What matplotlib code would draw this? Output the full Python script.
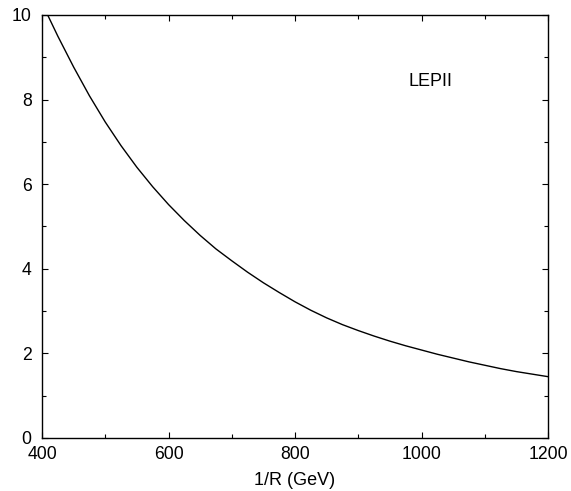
import matplotlib
matplotlib.use("Agg")
import matplotlib.pyplot as plt
from matplotlib.ticker import MultipleLocator

plt.rcParams['font.family'] = ['Liberation Sans', 'DejaVu Sans']

# Curve
inv_r = [408, 425, 450, 475, 500, 525, 550, 575, 600, 625, 650, 675, 700, 725, 750, 775,
         800, 825, 850, 875, 900, 925, 950, 975, 1000, 1025, 1050, 1075, 1100, 1125,
         1150, 1175, 1200]
value = [10.03, 9.50, 8.77, 8.09, 7.47, 6.91, 6.40, 5.94, 5.52, 5.14, 4.79, 4.47, 4.19, 3.92,
         3.67, 3.44, 3.22, 3.02, 2.84, 2.68, 2.54, 2.41, 2.29, 2.18, 2.08, 1.98, 1.89,
         1.80, 1.72, 1.64, 1.57, 1.51, 1.45]

label_text = "LEPII"
label_pos = (1014, 8.42)
xlabel = "1/R (GeV)"

fig = plt.figure(figsize=(5.71, 4.91), dpi=100)
ax = fig.add_axes([42/571, 1 - 438/491, (548 - 42)/571, (438 - 15)/491])
ax.plot(inv_r, value, color='black', lw=1.0)
ax.set_xlim(400, 1200)
ax.set_ylim(0, 10)
ax.xaxis.set_major_locator(MultipleLocator(200))
ax.xaxis.set_minor_locator(MultipleLocator(100))
ax.yaxis.set_major_locator(MultipleLocator(2))
ax.yaxis.set_minor_locator(MultipleLocator(1))
ax.tick_params(which='both', direction='in', top=True, right=True, width=0.8)
ax.tick_params(which='major', length=4.5, labelsize=12.7)
ax.tick_params(axis='x', which='major', pad=6)
ax.tick_params(axis='y', which='major', pad=7.4)
ax.tick_params(which='minor', length=3)
for s in ax.spines.values():
    s.set_linewidth(1.0)
ax.set_xlabel(xlabel, fontsize=13, labelpad=6.5)
ax.text(label_pos[0], label_pos[1], label_text, fontsize=13, ha='center', va='center')
fig.savefig("out.png", dpi=100)
